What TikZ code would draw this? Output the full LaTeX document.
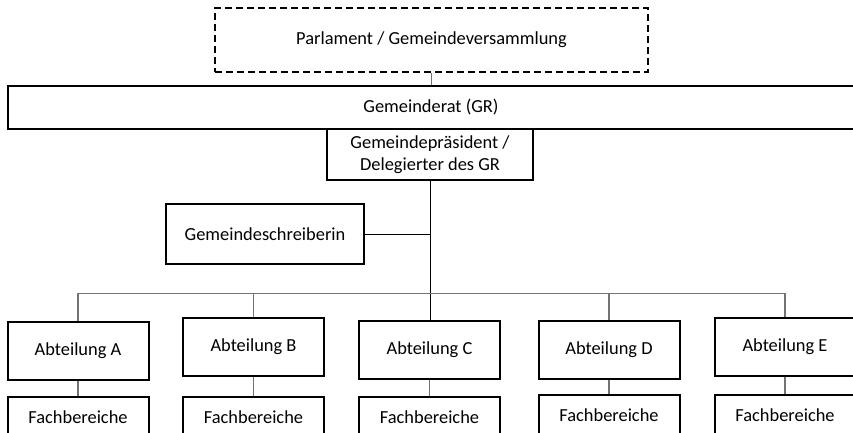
\documentclass[tikz,border=0pt]{standalone}
\usepackage{fontspec}
\setmainfont{Carlito}
\usepackage{tikz}

\begin{document}
\begin{tikzpicture}[x=1pt,y=-1pt,
  box/.style={draw=black,line width=2pt,inner sep=0pt,align=center,
    minimum width=141pt,minimum height=58pt,
    font=\fontsize{18.4}{22.5}\selectfont},
  dashbox/.style={box,dash pattern=on 7pt off 4pt},
  blackline/.style={draw=black,line width=1pt},
  grayline/.style={draw=black!55,line width=1.5pt}]
\useasboundingbox (0,0) rectangle (853,433);
\node[dashbox,minimum width=433pt,minimum height=64pt] (parl) at (431.5,40) {Parlament / Gemeindeversammlung};
\node[box,minimum width=846pt,minimum height=43pt] (rat) at (431,107.5) {Gemeinderat (GR)};
\node[box,minimum width=206pt,minimum height=51pt] (praes) at (430,154.5) {Gemeindepräsident /\\Delegierter des GR};
\node[box,minimum width=198pt,minimum height=60pt] (schreib) at (265,234) {Gemeindeschreiberin};
\node[box] (abtA) at (78,350.5) {Abteilung A};
\node[box] (abtB) at (253.5,346.5) {Abteilung B};
\node[box] (abtC) at (429.5,349.5) {Abteilung C};
\node[box] (abtD) at (609,349.5) {Abteilung D};
\node[box] (abtE) at (785,347) {Abteilung E};
\node[box,minimum height=40pt] (fachA) at (78,417) {Fachbereiche};
\node[box,minimum height=40pt] (fachB) at (253.5,417) {Fachbereiche};
\node[box,minimum height=40pt] (fachC) at (429.5,417) {Fachbereiche};
\node[box,minimum height=40pt] (fachD) at (609,415) {Fachbereiche};
\node[box,minimum height=40pt] (fachE) at (785,415) {Fachbereiche};
\coordinate (bus) at (430,293.5);
% upper part
\draw[grayline] (parl.south) -- (parl.south |- rat.north);
\draw[blackline] (praes.south) -- (praes.south |- abtC.north);
\draw[blackline] (schreib.east) -- (schreib.east -| praes.south);
% departments
\draw[grayline] (abtA.north) -- (abtA.north |- bus) -- (abtE.north |- bus) -- (abtE.north);
\draw[grayline] (abtB.north) -- (abtB.north |- bus);
\draw[grayline] (abtD.north) -- (abtD.north |- bus);
\draw[blackline] (bus) -- (praes.south |- abtC.north);
\draw[grayline] (abtA) -- (fachA);
\draw[grayline] (abtB) -- (fachB);
\draw[grayline] (abtC) -- (fachC);
\draw[grayline] (abtD) -- (fachD);
\draw[grayline] (abtE) -- (fachE);
\end{tikzpicture}
\end{document}
